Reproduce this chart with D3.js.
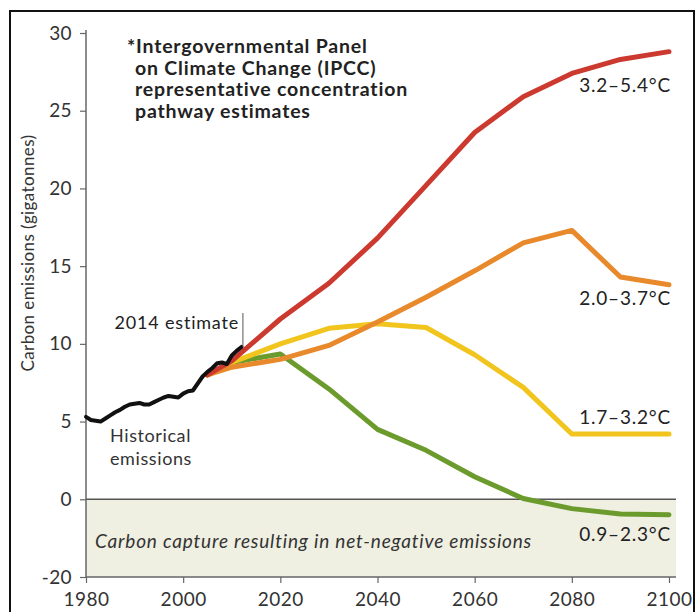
<!DOCTYPE html>
<html>
<head>
<meta charset="utf-8">
<script src="https://cdn.jsdelivr.net/npm/d3@7"></script>
<style>
  body { margin: 0; background: #fff; }
  svg { display: block; font-family: Lato, "Open Sans", sans-serif; }
</style>
</head>
<body>
<svg id="chart" width="699" height="612"></svg>
<script>
'use strict';

// historical emissions, GtC
const histYears = [1980, 1981, 1982, 1983, 1984, 1985, 1986, 1987, 1988, 1989, 1990, 1991, 1992,
    1993, 1994, 1995, 1996, 1997, 1998, 1999, 2000, 2001, 2002, 2003, 2004, 2005, 2006, 2007,
    2008, 2009, 2010, 2011, 2012];
const histValues = [5.3, 5.1, 5.05, 5.0, 5.2, 5.4, 5.6, 5.75, 5.95, 6.1, 6.15, 6.2, 6.1,
    6.1, 6.25, 6.4, 6.55, 6.65, 6.6, 6.55, 6.8, 6.95, 7.0, 7.45, 7.9, 8.2, 8.45, 8.75,
    8.8, 8.7, 9.25, 9.55, 9.8];

// RCP pathway estimates
const rcpYears = [2005, 2010, 2020, 2030, 2040, 2050, 2060, 2070, 2080, 2090, 2100];
const rcp85 = [8.0, 8.9, 11.6, 13.9, 16.8, 20.2, 23.6, 25.9, 27.4, 28.3, 28.8];
const rcp60 = [8.0, 8.5, 9.0, 9.9, 11.4, 13.0, 14.7, 16.5, 17.3, 14.3, 13.8];
const rcp45 = [8.0, 8.8, 10.0, 11.0, 11.3, 11.05, 9.3, 7.2, 4.2, 4.2, 4.2];
const rcp26 = [8.0, 8.8, 9.35, 7.1, 4.5, 3.15, 1.45, 0.05, -0.6, -0.95, -1.0];

const scenarioNames = ['0.9–2.3°C', '1.7–3.2°C', '2.0–3.7°C', '3.2–5.4°C'];
const scenarioValues = [rcp26, rcp45, rcp60, rcp85];
const scenarioColors = ['#6c9b2d', '#f1c51e', '#e8892c', '#cc3a2f'];

const xTickValues = [1980, 2000, 2020, 2040, 2060, 2080, 2100];
const yTickValues = [-5, 0, 5, 10, 15, 20, 25, 30];
const yTickLabels = ['-20', '0', '5', '10', '15', '20', '25', '30'];

const noteLines = ['*Intergovernmental Panel', 'on Climate Change (IPCC)',
    'representative concentration', 'pathway estimates'];

(function () {
    const svg = d3.select('#chart');

    const x = d3.scaleLinear().domain([1980, 2100]).range([86, 669]);
    const y = d3.scaleLinear().domain([-5, 30]).range([577, 33]);
    const right = x(2100) + 7;

    // frame
    svg.append('rect')
        .attr('x', 10).attr('y', 11)
        .attr('width', 684).attr('height', 640)
        .attr('fill', 'none')
        .attr('stroke', '#111')
        .attr('stroke-width', 2);

    // net-negative band
    svg.append('rect')
        .attr('x', x(1980)).attr('y', y(0))
        .attr('width', right - x(1980)).attr('height', y(-5) - y(0))
        .attr('fill', '#efefe2');

    svg.append('line')
        .attr('x1', x(1980)).attr('x2', right)
        .attr('y1', y(0)).attr('y2', y(0))
        .attr('stroke', '#555').attr('stroke-width', 1.5);

    svg.append('text')
        .attr('x', 95).attr('y', 548)
        .attr('font-size', 19).attr('font-style', 'italic')
        .attr('letter-spacing', 0.8)
        .attr('fill', '#333')
        .text('Carbon capture resulting in net-negative emissions');

    // axes
    const yAxis = svg.append('g')
        .attr('transform', `translate(${x(1980)},0)`)
        .call(d3.axisLeft(y)
            .tickValues(yTickValues)
            .tickSize(6)
            .tickPadding(8)
            .tickFormat((d, i) => yTickLabels[i]));

    yAxis.select('.domain')
        .attr('d', `M0,30V${y(-5)}`)
        .attr('stroke', '#666').attr('stroke-width', 1.5);

    yAxis.selectAll('.tick line').attr('stroke', '#666').attr('stroke-width', 1.2);
    yAxis.selectAll('.tick text')
        .attr('font-size', 19).attr('fill', '#333')
        .attr('letter-spacing', 0.4)
        .attr('font-family', 'Lato, sans-serif');

    const xAxis = svg.append('g')
        .attr('transform', `translate(0,${y(-5)})`)
        .call(d3.axisBottom(x)
            .tickValues(xTickValues)
            .tickSize(6)
            .tickPadding(10)
            .tickFormat(d3.format('d')));

    xAxis.select('.domain')
        .attr('d', `M${x(1980)},0H${right}`)
        .attr('stroke', '#666').attr('stroke-width', 1.5);

    xAxis.selectAll('.tick line').attr('stroke', '#666').attr('stroke-width', 1.2);
    xAxis.selectAll('.tick text')
        .attr('font-size', 19).attr('fill', '#333')
        .attr('letter-spacing', 0.5)
        .attr('font-family', 'Lato, sans-serif');

    svg.append('text')
        .attr('transform', 'translate(34,253) rotate(-90)')
        .attr('text-anchor', 'middle')
        .attr('font-size', 17).attr('fill', '#333')
        .attr('letter-spacing', 0.4)
        .text('Carbon emissions (gigatonnes)');

    // scenario lines
    const line = d3.line()
        .x(d => x(d[0]))
        .y(d => y(d[1]));

    scenarioValues.forEach((vals, i) => {
        svg.append('path')
            .datum(rcpYears.map((yr, j) => [yr, vals[j]]))
            .attr('d', line)
            .attr('fill', 'none')
            .attr('stroke', scenarioColors[i])
            .attr('stroke-width', 5)
            .attr('stroke-linejoin', 'round')
            .attr('stroke-linecap', 'round');
    });

    svg.append('path')
        .datum(histYears.map((yr, j) => [yr, histValues[j]]))
        .attr('d', line)
        .attr('fill', 'none')
        .attr('stroke', '#111')
        .attr('stroke-width', 4)
        .attr('stroke-linejoin', 'round')
        .attr('stroke-linecap', 'round');

    // scenario labels
    const labelY = [541, 424, 305, 92];
    scenarioNames.forEach((name, i) => {
        svg.append('text')
            .attr('x', 671).attr('y', labelY[i])
            .attr('text-anchor', 'end')
            .attr('font-size', 19).attr('fill', '#222')
            .attr('letter-spacing', 0.8)
            .text(name);
    });

    // annotations
    svg.append('line')
        .attr('x1', x(2012.3)).attr('x2', x(2012.3))
        .attr('y1', 313).attr('y2', 347)
        .attr('stroke', '#555').attr('stroke-width', 1);

    svg.append('text')
        .attr('x', 239).attr('y', 329)
        .attr('text-anchor', 'end')
        .attr('font-size', 18).attr('fill', '#222')
        .attr('letter-spacing', 0.8)
        .text('2014 estimate');

    svg.append('text')
        .attr('x', 110).attr('y', 442)
        .attr('font-size', 18).attr('fill', '#333')
        .attr('letter-spacing', 0.6)
        .selectAll('tspan')
        .data(['Historical', 'emissions'])
        .join('tspan')
        .attr('x', 110)
        .attr('dy', (d, i) => i === 0 ? 0 : 23)
        .text(d => d);

    svg.append('text')
        .attr('y', 53)
        .attr('font-size', 19.5).attr('font-weight', 'bold').attr('fill', '#222')
        .attr('letter-spacing', 0.8)
        .selectAll('tspan')
        .data(noteLines)
        .join('tspan')
        .attr('x', (d, i) => i === 0 ? 127 : 135)
        .attr('dy', (d, i) => i === 0 ? 0 : 21.5)
        .text(d => d);
})();
</script>
</body>
</html>
